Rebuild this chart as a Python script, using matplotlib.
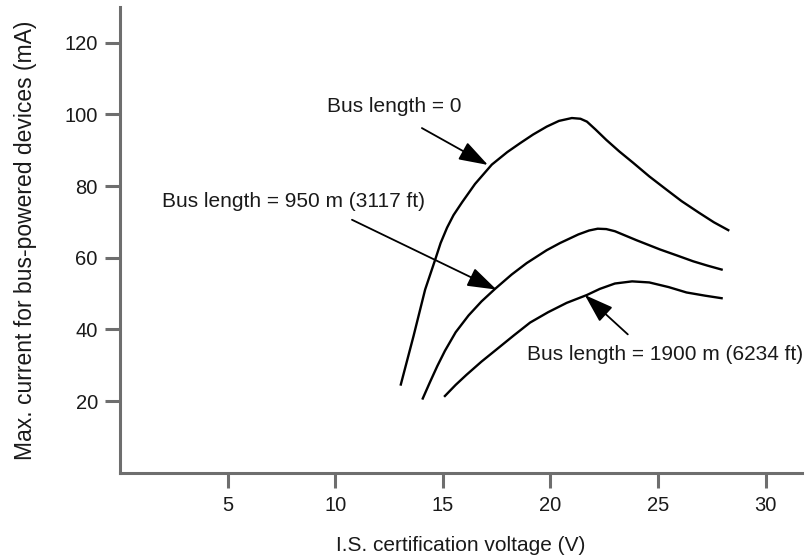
import matplotlib.pyplot as plt

plt.rcParams['font.family'] = ['Liberation Sans', 'DejaVu Sans']

# Readings: voltage (V) vs. max current (mA)
v_len0 = [13.05, 13.64, 14.18, 14.65, 14.9, 15.2, 15.5, 15.9, 16.5, 17.28, 18.0,
          18.6, 19.2, 19.83, 20.4, 21.0, 21.4, 21.7, 22.1, 22.6, 23.2, 23.85,
          24.6, 25.4, 26.1, 26.9, 27.6, 28.27]
i_len0 = [24.6, 38.1, 51.1, 59.5, 64.1, 68.4, 71.9, 75.5, 80.6, 86.0, 89.5,
          92.0, 94.4, 96.6, 98.2, 99.0, 98.8, 98.0, 95.8, 92.9, 89.7, 86.5,
          82.7, 79.0, 75.8, 72.6, 69.9, 67.7]

v_len950 = [14.07, 14.4, 14.75, 15.1, 15.6, 16.2, 16.8, 17.43, 18.2, 18.9, 19.83,
            20.45, 21.3, 21.8, 22.2, 22.6, 23.0, 24.0, 25.1, 25.9, 26.64, 27.3,
            27.96]
i_len950 = [20.7, 25.2, 29.8, 34.0, 39.2, 43.9, 47.8, 51.3, 55.3, 58.5, 62.1,
            64.1, 66.5, 67.6, 68.1, 68.0, 67.4, 64.9, 62.3, 60.6, 59.0, 57.8,
            56.7]

v_len1900 = [15.1, 15.6, 16.1, 16.8, 17.5, 18.3, 19.06, 19.9, 20.76, 21.7, 22.3,
             23.0, 23.8, 24.6, 25.5, 26.33, 27.2, 27.96]
i_len1900 = [21.4, 24.5, 27.3, 31.0, 34.4, 38.3, 41.9, 44.8, 47.4, 49.6, 51.3,
             52.8, 53.4, 53.1, 51.8, 50.3, 49.4, 48.7]

x_ticks = [5, 10, 15, 20, 25, 30]
y_ticks = [20, 40, 60, 80, 100, 120]

fig = plt.figure(figsize=(8.11, 5.6), dpi=100)
ax = fig.add_axes([0.148, 0.156, 0.841, 0.8315])

for v, i in [(v_len0, i_len0), (v_len950, i_len950), (v_len1900, i_len1900)]:
    ax.plot(v, i, color='black', lw=1.7, solid_joinstyle='round')

ax.set_xlim(0, 31.7)
ax.set_ylim(0, 130)
ax.set_xticks(x_ticks)
ax.set_yticks(y_ticks)

spine_col = '#6e6e6e'
for side in ['top', 'right']:
    ax.spines[side].set_visible(False)
for side in ['left', 'bottom']:
    ax.spines[side].set_color(spine_col)
    ax.spines[side].set_linewidth(2.2)
ax.tick_params(axis='both', colors=spine_col, width=2.2, length=11,
               labelsize=14.5, labelcolor='#1a1a1a')
ax.tick_params(axis='x', pad=6)
ax.tick_params(axis='y', pad=5)

ax.set_xlabel('I.S. certification voltage (V)', fontsize=15, color='#1a1a1a',
              labelpad=15)
ax.set_ylabel('Max. current for bus-powered devices (mA)', fontsize=16.5,
              color='#1a1a1a', labelpad=20)

arrow = dict(arrowstyle='-|>,head_length=0.9,head_width=0.3', color='black',
             lw=1.3, mutation_scale=20, shrinkA=0, shrinkB=0)
txt = dict(fontsize=15, color='#1a1a1a', va='center', ha='left')

ax.annotate('', xy=(17.1, 85.9), xytext=(14.03, 96.2), arrowprops=arrow)
ax.text(9.63, 102.1, 'Bus length = 0', **txt)

ax.annotate('', xy=(17.5, 51.1), xytext=(10.78, 70.6), arrowprops=arrow)
ax.text(1.95, 75.7, 'Bus length = 950 m (3117 ft)', **txt)

ax.annotate('', xy=(21.6, 49.6), xytext=(23.6, 38.6), arrowprops=arrow)
ax.text(18.9, 33.0, 'Bus length = 1900 m (6234 ft)', **txt)

fig.savefig('out.png', dpi=100)
